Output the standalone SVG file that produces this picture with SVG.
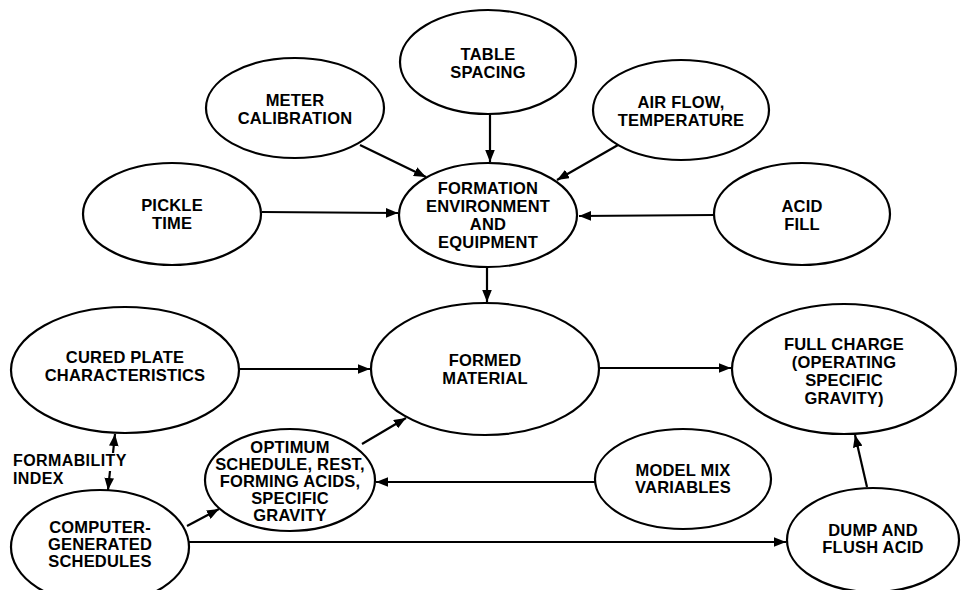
<svg xmlns="http://www.w3.org/2000/svg" width="961" height="590" viewBox="0 0 961 590">
<style>
.n ellipse{fill:#fff;stroke:#000;stroke-width:2.2}
.n text{font-family:"Liberation Sans",Arial,sans-serif;font-weight:bold;font-size:16.5px;letter-spacing:0.2px;text-anchor:middle;fill:#000}
.lbl{font-family:"Liberation Sans",Arial,sans-serif;font-weight:bold;font-size:16px;letter-spacing:0.4px;fill:#000}
.c line{stroke:#000;stroke-width:2.2;fill:none}
</style>
<defs>
<marker id="ah" viewBox="0 0 10 8" refX="10" refY="4" markerWidth="5.5" markerHeight="4.4" orient="auto" markerUnits="strokeWidth">
<path d="M0,0 L10,4 L0,8 z" fill="#000"/>
</marker>
</defs>
<rect width="961" height="590" fill="#fff"/>
<g class="c">
<line x1="490" y1="114" x2="490" y2="162" marker-end="url(#ah)"/>
<line x1="360" y1="145" x2="426" y2="177" marker-end="url(#ah)"/>
<line x1="618" y1="145" x2="557" y2="180" marker-end="url(#ah)"/>
<line x1="262" y1="212" x2="398" y2="213" marker-end="url(#ah)"/>
<line x1="714" y1="215" x2="579" y2="216" marker-end="url(#ah)"/>
<line x1="487" y1="267" x2="487" y2="302" marker-end="url(#ah)"/>
<line x1="239" y1="369" x2="370" y2="369" marker-end="url(#ah)"/>
<line x1="598" y1="368" x2="731" y2="368" marker-end="url(#ah)"/>
<line x1="362" y1="444" x2="406" y2="418" marker-end="url(#ah)"/>
<line x1="595" y1="482" x2="376" y2="482" marker-end="url(#ah)"/>
<line x1="187" y1="526" x2="219" y2="509" marker-end="url(#ah)"/>
<line x1="189" y1="542" x2="786" y2="542" marker-end="url(#ah)"/>
<line x1="867" y1="487" x2="855" y2="435" marker-end="url(#ah)"/>
<line x1="113" y1="453" x2="115" y2="434" marker-end="url(#ah)"/>
<line x1="110" y1="471" x2="108" y2="490" marker-end="url(#ah)"/>
</g>
<text class="lbl" x="13" y="466">FORMABILITY</text>
<text class="lbl" x="13" y="484">INDEX</text>
<g id="table-spacing" class="n"><ellipse cx="488" cy="62" rx="88" ry="52"/><text x="488" y="60">TABLE</text><text x="488" y="78">SPACING</text></g>
<g id="meter-calibration" class="n"><ellipse cx="295" cy="108" rx="89" ry="50"/><text x="295" y="106">METER</text><text x="295" y="124">CALIBRATION</text></g>
<g id="air-flow" class="n"><ellipse cx="681" cy="110" rx="88" ry="50"/><text x="681" y="108">AIR FLOW,</text><text x="681" y="126">TEMPERATURE</text></g>
<g id="pickle-time" class="n"><ellipse cx="172" cy="214" rx="89" ry="51"/><text x="172" y="211">PICKLE</text><text x="172" y="229">TIME</text></g>
<g id="formation-env" class="n"><ellipse cx="488" cy="215" rx="89" ry="52"/><text x="488" y="194">FORMATION</text><text x="488" y="212">ENVIRONMENT</text><text x="488" y="230">AND</text><text x="488" y="248">EQUIPMENT</text></g>
<g id="acid-fill" class="n"><ellipse cx="802" cy="214" rx="88" ry="51"/><text x="802" y="212">ACID</text><text x="802" y="230">FILL</text></g>
<g id="cured-plate" class="n"><ellipse cx="125" cy="370" rx="114" ry="63"/><text x="125" y="363">CURED PLATE</text><text x="125" y="381">CHARACTERISTICS</text></g>
<g id="formed-material" class="n"><ellipse cx="485" cy="369" rx="114" ry="66"/><text x="485" y="366">FORMED</text><text x="485" y="384">MATERIAL</text></g>
<g id="full-charge" class="n"><ellipse cx="844" cy="369" rx="112" ry="65"/><text x="844" y="350">FULL CHARGE</text><text x="844" y="368">(OPERATING</text><text x="844" y="386">SPECIFIC</text><text x="844" y="404">GRAVITY)</text></g>
<g id="optimum-schedule" class="n"><ellipse cx="290" cy="480" rx="85" ry="51"/><text x="290" y="453">OPTIMUM</text><text x="290" y="470">SCHEDULE, REST,</text><text x="290" y="487">FORMING ACIDS,</text><text x="290" y="504">SPECIFIC</text><text x="290" y="521">GRAVITY</text></g>
<g id="model-mix" class="n"><ellipse cx="683" cy="479" rx="88" ry="50"/><text x="683" y="476">MODEL MIX</text><text x="683" y="493">VARIABLES</text></g>
<g id="computer-schedules" class="n"><ellipse cx="100" cy="547" rx="89" ry="57"/><text x="100" y="533">COMPUTER-</text><text x="100" y="550">GENERATED</text><text x="100" y="567">SCHEDULES</text></g>
<g id="dump-flush" class="n"><ellipse cx="873" cy="540" rx="86" ry="52"/><text x="873" y="536">DUMP AND</text><text x="873" y="553">FLUSH ACID</text></g>
</svg>
